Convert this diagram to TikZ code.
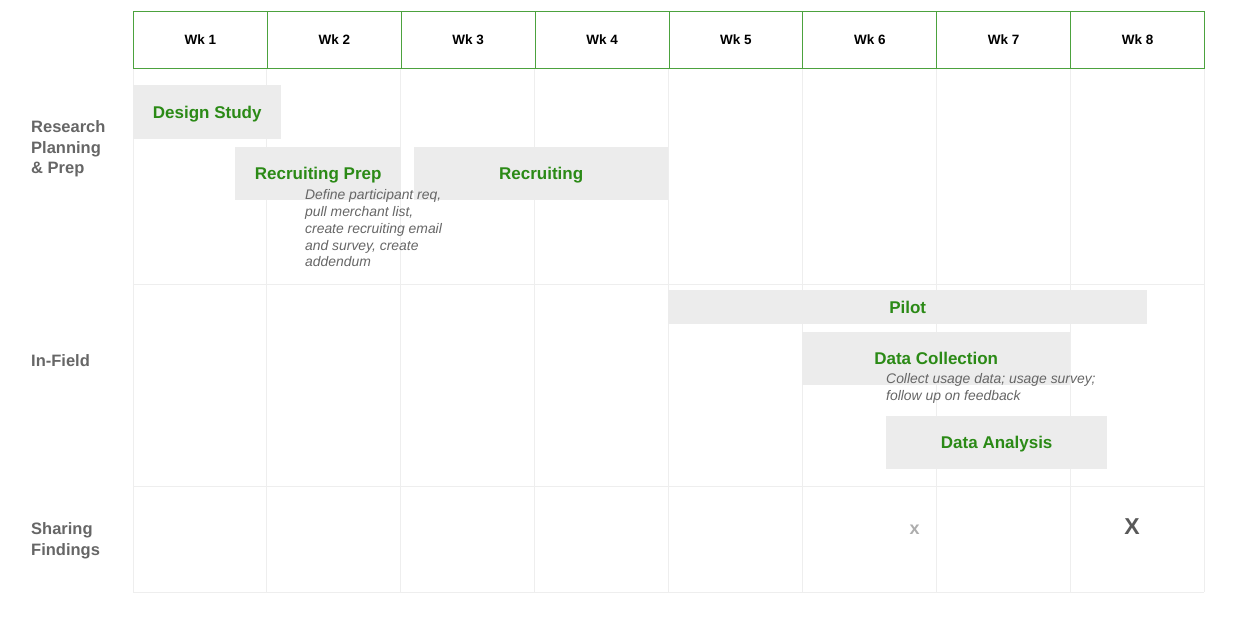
\documentclass[tikz,border=0pt]{standalone}
\usepackage{fontspec}
\setmainfont{Liberation Sans}
\definecolor{hdgreen}{HTML}{4CA23E}
\definecolor{txgreen}{HTML}{2B8A16}
\definecolor{barfill}{HTML}{ECECEC}
\definecolor{gridline}{HTML}{EEEEEE}
\definecolor{lbgray}{HTML}{666666}
\begin{document}
\begin{tikzpicture}[x=1pt,y=-1pt,
	wkcell/.style={draw=hdgreen,line width=1pt,minimum width=133.875pt,minimum height=57pt,anchor=north west,text height=9.7pt,text depth=0pt,font=\fontsize{13.5}{16}\selectfont\bfseries},
	bar/.style={fill=barfill,inner sep=0pt,anchor=north west,text=txgreen,text height=12.2pt,text depth=0pt,font=\fontsize{17}{20}\selectfont\bfseries},
	note/.style={inner sep=0pt,anchor=north west,align=left,text=lbgray,font=\fontsize{13.9}{16.8}\selectfont\itshape},
	rowlab/.style={inner sep=0pt,anchor=west,align=left,text=lbgray,font=\fontsize{16.5}{20.5}\selectfont\bfseries}]
	\useasboundingbox (0,0) rectangle (1238,622);
	% grid
	\foreach \i in {0,...,8}{
		\draw[gridline,line width=1pt] (133+133.875*\i,68) -- (133+133.875*\i,592);
	}
	\foreach \y in {284,486,592}{
		\draw[gridline,line width=1pt] (133,\y) -- (1204,\y);
	}
	% header
	\foreach \i in {1,...,8}{
		\node[wkcell] (wk\i) at (133+133.875*\i-133.875,11) {Wk \i};
	}
	% row labels
	\node[rowlab] (plan) at (31,149) {Research\\Planning\\\& Prep};
	\node[rowlab] (field) at (31,361) {In-Field};
	\node[rowlab] (share) at (31,541) {Sharing\\Findings};
	% bars
	\node[bar,minimum width=148pt,minimum height=54pt] (design) at (133,85) {Design Study};
	\node[bar,minimum width=166pt,minimum height=53pt] (recprep) at (235,147) {Recruiting Prep};
	\node[bar,minimum width=254pt,minimum height=53pt] (recruit) at (414,147) {Recruiting};
	\node[bar,minimum width=479pt,minimum height=34pt] (pilot) at (668,290) {Pilot};
	\node[bar,minimum width=268pt,minimum height=53pt] (collect) at (802,332) {Data Collection};
	\node[bar,minimum width=221pt,minimum height=53pt] (analysis) at (886,416) {Data Analysis};
	% notes
	\node[note] (recnote) at (305,189.5) {Define participant req,\\pull merchant list,\\create recruiting email\\and survey, create\\addendum};
	\node[note] (colnote) at (886,373.5) {Collect usage data; usage survey;\\follow up on feedback};
	% marks
	\node[text=black!32,font=\fontsize{18}{20}\selectfont\bfseries] (mark6) at (914.5,530) {x};
	\node[text=black!65,font=\fontsize{23}{26}\selectfont\bfseries] (mark8) at (1132,527) {X};
\end{tikzpicture}
\end{document}
